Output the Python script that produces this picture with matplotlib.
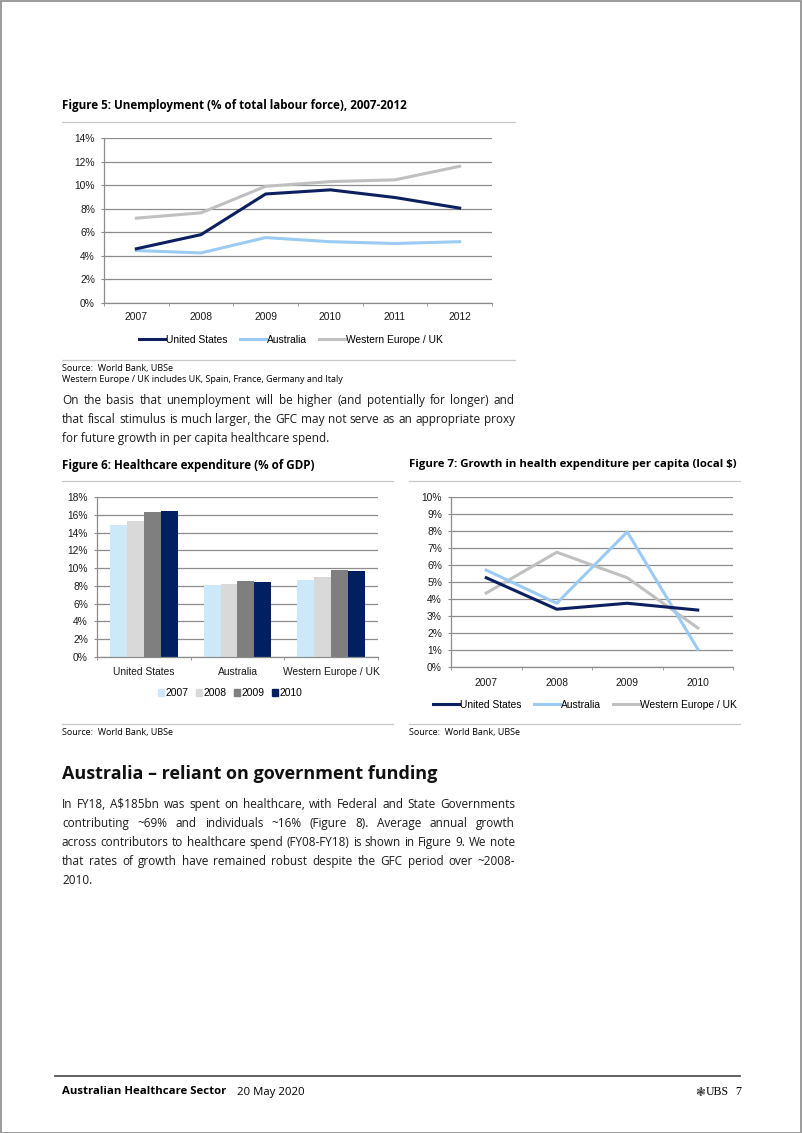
import matplotlib
matplotlib.use("Agg")
import matplotlib.pyplot as plt
from matplotlib import font_manager
from matplotlib.lines import Line2D
from matplotlib.patches import Patch, Rectangle
import numpy as np

W, H = 802, 1133

# Figure 5: unemployment (% of labour force)
years5 = ["2007", "2008", "2009", "2010", "2011", "2012"]
unemp_us = [4.6, 5.8, 9.25, 9.6, 8.95, 8.05]
unemp_au = [4.45, 4.25, 5.55, 5.2, 5.05, 5.2]
unemp_we = [7.2, 7.65, 9.9, 10.3, 10.45, 11.6]

# Figure 6: healthcare expenditure (% of GDP)
regions = ["United States", "Australia", "Western Europe / UK"]
bar_years = ["2007", "2008", "2009", "2010"]
hc_2007 = [14.9, 8.1, 8.7]
hc_2008 = [15.3, 8.25, 9.05]
hc_2009 = [16.3, 8.6, 9.75]
hc_2010 = [16.4, 8.45, 9.7]

# Figure 7: growth in health expenditure per capita
years7 = ["2007", "2008", "2009", "2010"]
growth_us = [5.25, 3.4, 3.75, 3.35]
growth_au = [5.7, 3.75, 7.95, 1.05]
growth_we = [4.35, 6.75, 5.25, 2.3]

NAVY = "#0c1f5e"
LBLUE = "#9bcbf2"
LGRAY = "#c0c0c0"
BAR_COLS = ["#cde9f9", "#d9d9d9", "#7f7f7f", "#00205f"]
GRID = "#8c8c8c"

installed = {f.name for f in font_manager.fontManager.ttflist}
CHART_FONT = "Liberation Sans Narrow" if "Liberation Sans Narrow" in installed else "Liberation Sans"
CHART_FS = 8 if CHART_FONT == "Liberation Sans Narrow" else 7.4
BODY_FONT = "Open Sans"

fig = plt.figure(figsize=(W / 100, H / 100), dpi=100)


def ax_px(x0, y0, x1, y1):
    return fig.add_axes([x0 / W, 1 - y1 / H, (x1 - x0) / W, (y1 - y0) / H])


def txt(x, y, s, **kw):
    kw.setdefault("va", "center")
    kw.setdefault("family", BODY_FONT)
    return fig.text(x / W, 1 - y / H, s, **kw)


def hline(x0, x1, y, color="#c8c8c8", lw=0.9):
    fig.add_artist(Line2D([x0 / W, x1 / W], [1 - y / H, 1 - y / H],
                          color=color, lw=lw, transform=fig.transFigure))


def style(ax, ymax, step, ncat, xpad):
    ax.set_ylim(0, ymax)
    ax.set_xlim(-0.5, ncat - 0.5)
    ax.set_yticks(np.arange(0, ymax + step / 2, step))
    ax.yaxis.set_major_formatter(lambda v, p: f"{v:.0f}%")
    ax.grid(axis="y", color=GRID, lw=0.9)
    ax.set_axisbelow(True)
    for s in ["top", "right"]:
        ax.spines[s].set_visible(False)
    for s in ["left", "bottom"]:
        ax.spines[s].set_color(GRID)
        ax.spines[s].set_linewidth(0.9)
    ax.set_xticks(np.arange(-0.5, ncat, 1), minor=True)
    ax.tick_params(axis="y", length=2.5, color=GRID, pad=4, labelsize=CHART_FS)
    ax.tick_params(axis="x", which="major", length=0, pad=xpad, labelsize=CHART_FS)
    ax.tick_params(axis="x", which="minor", length=2.5, color=GRID)
    for lab in ax.get_xticklabels() + ax.get_yticklabels():
        lab.set_family(CHART_FONT)
        lab.set_color("#1a1a1a")


def line_legend(cx, cy):
    handles = [Line2D([], [], color=NAVY, lw=2.2),
               Line2D([], [], color=LBLUE, lw=2.2),
               Line2D([], [], color=LGRAY, lw=2.2)]
    fig.legend(handles, regions, loc="center", bbox_to_anchor=(cx / W, 1 - cy / H),
               ncol=3, frameon=False, handlelength=2.5, handletextpad=0.1,
               columnspacing=1.2, prop={"family": CHART_FONT, "size": CHART_FS})


def justified(lines, x0, x1, y0, dy, **kw):
    # word-by-word placement on a shared baseline, last line left aligned
    r = fig.canvas.get_renderer()
    kw["va"] = "baseline"
    for i, line in enumerate(lines):
        y = y0 + i * dy
        if i == len(lines) - 1:
            txt(x0, y, line, **kw)
            continue
        words = line.split(" ")
        ts = [txt(0, y, w, **kw) for w in words]
        widths = [t.get_window_extent(r).width for t in ts]
        gap = (x1 - x0 - sum(widths)) / (len(words) - 1)
        x = x0
        for t, wd in zip(ts, widths):
            t.set_x(x / W)
            x += wd + gap


# ---- Figure 5 ----
txt(62, 106, "Figure 5: Unemployment (% of total labour force), 2007-2012",
    fontsize=8.4, weight="bold")
hline(62, 515, 122)
ax5 = ax_px(104, 138, 492, 303)
x5 = np.arange(len(years5))
ax5.plot(x5, unemp_we, color=LGRAY, lw=2.2)
ax5.plot(x5, unemp_au, color=LBLUE, lw=2.2)
ax5.plot(x5, unemp_us, color=NAVY, lw=2.2)
ax5.set_xticks(x5, years5)
style(ax5, 14, 2, len(years5), 6.5)
line_legend(291, 340)
hline(62, 515, 360)
txt(62, 368, "Source:  World Bank, UBSe", fontsize=6.5)
txt(62, 380, "Western Europe / UK includes UK, Spain, France, Germany and Italy", fontsize=6.5)

para1 = ["On the basis that unemployment will be higher (and potentially for longer) and",
         "that fiscal stimulus is much larger, the GFC may not serve as an appropriate proxy",
         "for future growth in per capita healthcare spend."]
justified(para1, 62, 515, 404, 19, fontsize=8.5, color="#1a1a1a")

# ---- Figure 6 ----
txt(62, 465, "Figure 6: Healthcare expenditure (% of GDP)", fontsize=8.4, weight="bold")
hline(62, 393, 481)
ax6 = ax_px(97, 497, 378, 657)
xc = np.arange(len(regions))
bw = 0.18
for i, vals in enumerate([hc_2007, hc_2008, hc_2009, hc_2010]):
    ax6.bar(xc + (i - 1.5) * bw, vals, width=bw, color=BAR_COLS[i])
ax6.set_xticks(xc, regions)
style(ax6, 18, 2, len(regions), 7)
fig.legend([Patch(color=c) for c in BAR_COLS], bar_years, loc="center",
           bbox_to_anchor=(230 / W, 1 - 693 / H), ncol=4, frameon=False,
           handlelength=0.6, handleheight=0.6, handletextpad=0.15, columnspacing=0.7,
           prop={"family": CHART_FONT, "size": CHART_FS})
hline(62, 393, 724)
txt(62, 733, "Source:  World Bank, UBSe", fontsize=6.5)

# ---- Figure 7 ----
txt(409, 465, "Figure 7: Growth in health expenditure per capita (local $)",
    fontsize=8.2, weight="bold")
hline(409, 740, 481)
ax7 = ax_px(451, 497, 733, 667)
x7 = np.arange(len(years7))
ax7.plot(x7, growth_we, color=LGRAY, lw=2.2)
ax7.plot(x7, growth_au, color=LBLUE, lw=2.2)
ax7.plot(x7, growth_us, color=NAVY, lw=2.2)
ax7.set_xticks(x7, years7)
style(ax7, 10, 1, len(years7), 8)
line_legend(585, 705)
hline(409, 740, 724)
txt(409, 733, "Source:  World Bank, UBSe", fontsize=6.5)

# ---- Section text ----
txt(62, 774, "Australia \u2013 reliant on government funding", fontsize=13,
    weight="bold", color="#111111")
para2 = ["In FY18, A$185bn was spent on healthcare, with Federal and State Governments",
         "contributing ~69% and individuals ~16% (Figure 8). Average annual growth",
         "across contributors to healthcare spend (FY08-FY18) is shown in Figure 9. We note",
         "that rates of growth have remained robust despite the GFC period over ~2008-",
         "2010."]
justified(para2, 62, 515, 808, 19, fontsize=8.5, color="#1a1a1a")

# ---- Footer ----
hline(55, 740, 1076, color="#555555", lw=1.3)
txt(62, 1092, "Australian Healthcare Sector", fontsize=8.2, weight="bold")
txt(237, 1092, "20 May 2020", fontsize=8.2)
txt(695, 1092, "\u2743", fontsize=8.5, family="DejaVu Sans", color="#333333")
txt(706, 1092, "UBS", fontsize=8.5, family="Liberation Serif")
txt(735, 1092, "7", fontsize=8.6, family="Liberation Serif")

fig.add_artist(Rectangle((0.5 / W, 0.5 / H), 1 - 1.5 / W, 1 - 1.5 / H, fill=False,
                         edgecolor="#8a8a8a", lw=1.2, transform=fig.transFigure))

fig.savefig("out.png", dpi=100)
